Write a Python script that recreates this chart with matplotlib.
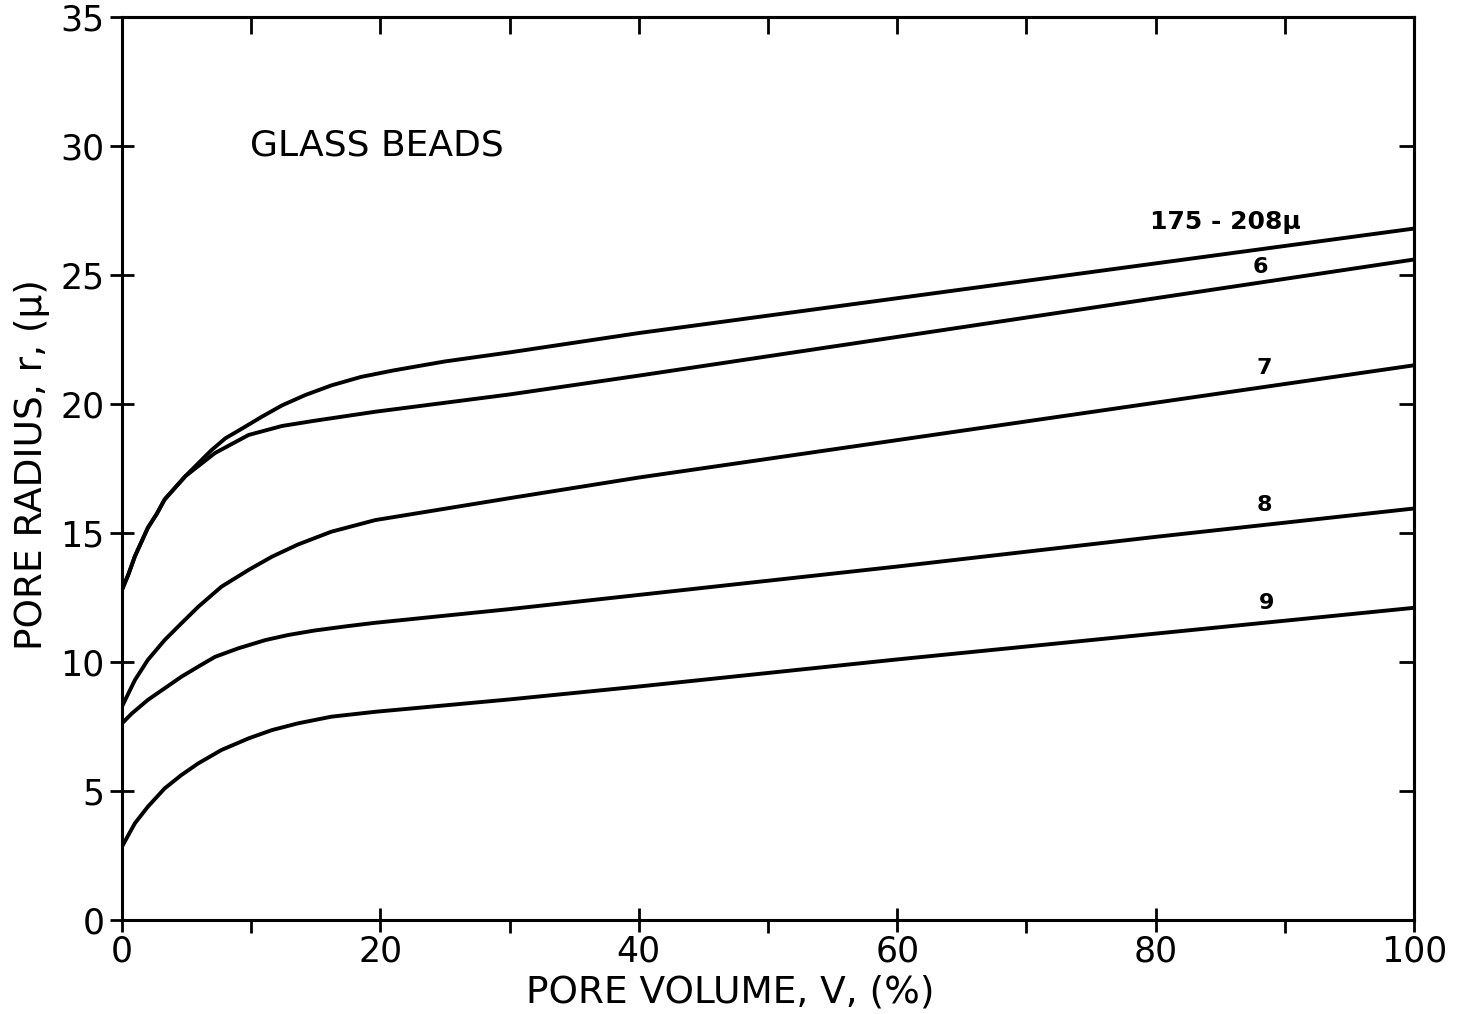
import matplotlib
matplotlib.use("Agg")
import matplotlib.pyplot as plt
from matplotlib.ticker import MultipleLocator, FixedLocator

# pore volume (%) and pore radius (micron)
vol_top = [0, 0.5, 1.0, 2.0, 2.7, 3.3, 4.9, 5.9, 6.9, 8.0, 9.3, 10.8, 12.4, 14.2, 16.2,
           18.5, 21, 25, 30, 40, 60, 80, 100]
rad_top = [12.8, 13.4, 14.1, 15.2, 15.75, 16.3, 17.2, 17.7, 18.2, 18.67, 19.05, 19.5,
           19.95, 20.35, 20.72, 21.05, 21.3, 21.65, 22.0, 22.75, 24.1, 25.45, 26.8]

vol_6 = [0, 0.5, 1.0, 2.0, 2.7, 3.3, 4.9, 7.2, 9.8, 12.4, 14.9, 19.6, 30, 40, 60, 80, 100]
rad_6 = [12.8, 13.4, 14.1, 15.2, 15.75, 16.3, 17.2, 18.1, 18.8, 19.15, 19.35, 19.7,
         20.37, 21.1, 22.6, 24.1, 25.6]

vol_7 = [0, 0.5, 1.0, 2.0, 3.3, 4.6, 5.9, 7.7, 9.8, 11.6, 13.6, 16.2, 19.6,
         30, 40, 60, 80, 100]
rad_7 = [8.27, 8.79, 9.3, 10.08, 10.85, 11.5, 12.14, 12.92, 13.57, 14.08, 14.55, 15.05,
         15.5, 16.35, 17.15, 18.6, 20.05, 21.5]

vol_8 = [0, 0.75, 2.0, 3.3, 4.6, 5.9, 7.2, 9.0, 11.1, 12.9, 14.9, 17.3, 19.6,
         30, 40, 60, 80, 100]
rad_8 = [7.62, 8.0, 8.53, 8.98, 9.43, 9.82, 10.2, 10.53, 10.85, 11.05, 11.22, 11.38,
         11.52, 12.05, 12.6, 13.7, 14.85, 15.95]

vol_9 = [0, 0.5, 1.0, 2.0, 3.3, 4.6, 5.9, 7.7, 9.8, 11.6, 13.6, 16.2, 19.6,
         30, 40, 60, 80, 100]
rad_9 = [2.84, 3.3, 3.75, 4.39, 5.1, 5.62, 6.07, 6.59, 7.04, 7.36, 7.62, 7.88, 8.07,
         8.55, 9.05, 10.1, 11.1, 12.1]

curve_labels = ["175 - 208\u03bc", "6", "7", "8", "9"]
label_pos = [(85.4, 27.05), (88.1, 25.3), (88.4, 21.4), (88.4, 16.1), (88.6, 12.3)]

plt.rcParams['font.family'] = ['DejaVu Sans']

fig = plt.figure(figsize=(14.58, 10.14), dpi=100)
ax = fig.add_axes([122 / 1458, 1 - 920 / 1014, (1414 - 122) / 1458, (920 - 17) / 1014])

lw = 2.8
for xs, ys in [(vol_top, rad_top), (vol_6, rad_6), (vol_7, rad_7),
               (vol_8, rad_8), (vol_9, rad_9)]:
    ax.plot(xs, ys, color='black', lw=lw, solid_joinstyle='round')

for i, (txt, (xv, yv)) in enumerate(zip(curve_labels, label_pos)):
    ax.text(xv, yv, txt, fontsize=18 if i == 0 else 16, fontweight='bold',
            ha='center', va='center')

ax.text(9.9, 30.0, "GLASS BEADS", fontsize=26, ha='left', va='center')

ax.set_xlim(0, 100)
ax.set_ylim(0, 35)
for sp in ax.spines.values():
    sp.set_linewidth(2.2)

# bottom / left ticks
ax.xaxis.set_major_locator(MultipleLocator(20))
ax.xaxis.set_minor_locator(FixedLocator([10, 30, 50, 70, 90]))
ax.yaxis.set_major_locator(MultipleLocator(5))
ax.tick_params(axis='x', which='major', direction='inout', length=17, width=2,
               labelsize=25, pad=2)
ax.tick_params(axis='x', which='minor', direction='out', length=9, width=2)
ax.tick_params(axis='y', which='major', direction='inout', length=17, width=2,
               labelsize=25, pad=4)
for t in (ax.xaxis.get_major_ticks()[0], ax.xaxis.get_major_ticks()[-1]):
    t.tick1line.set_visible(False)
for t in (ax.yaxis.get_major_ticks()[0], ax.yaxis.get_major_ticks()[-1]):
    t.tick1line.set_visible(False)

# top / right ticks point inward
top = ax.secondary_xaxis('top')
top.set_xticks(range(10, 100, 10))
top.tick_params(direction='in', length=12, width=2, labeltop=False)
top.spines['top'].set_linewidth(2.2)
right = ax.secondary_yaxis('right')
right.set_yticks(range(5, 35, 5))
right.tick_params(direction='in', length=11, width=2, labelright=False)
right.spines['right'].set_linewidth(2.2)

fig.text(730 / 1458, 1 - 993 / 1014, "PORE VOLUME, V, (%)", fontsize=27,
         ha='center', va='center')
fig.text(32 / 1458, 1 - 465 / 1014, "PORE RADIUS, r, (\u03bc)", fontsize=27,
         ha='center', va='center', rotation=90)

fig.savefig("out.png", dpi=100)
